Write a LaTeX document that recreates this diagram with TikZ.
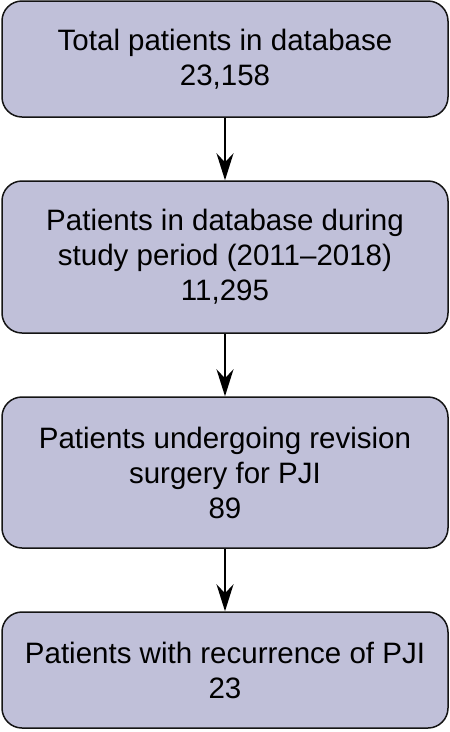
\documentclass[tikz,border=0pt]{standalone}
\usepackage{fontspec}
\setmainfont{Liberation Sans}
\usetikzlibrary{arrows.meta}
\definecolor{flowfill}{RGB}{192, 192, 217}
\definecolor{flowline}{RGB}{20, 20, 20}

\begin{document}
\begin{tikzpicture}[x=1pt, y=-1pt, >={Stealth[length=27pt, width=17pt, inset=9pt]}]

\useasboundingbox (0, 0) rectangle (450, 732);

% ============================================================
% CAJAS — flowfill: pasos del flujo de pacientes
% ============================================================

\tikzset{
    flowbox/.style={draw=flowline, line width=1.5pt, fill=flowfill,
        rounded corners=20pt, minimum width=446pt, align=center,
        inner sep=0pt, font=\fontsize{29.5}{35}\selectfont}
}

% Caja 1 (total)
\node[flowbox, minimum height=116pt] (box-total) at (225, 59)
    {Total patients in database\\23,158};

% Caja 2 (periodo de estudio)
\node[flowbox, minimum height=152pt] (box-period) at (225, 257)
    {Patients in database during\\study period (2011–2018)\\11,295};

% Caja 3 (revisión)
\node[flowbox, minimum height=151pt] (box-revision) at (225, 472.5)
    {Patients undergoing revision\\surgery for PJI\\89};

% Caja 4 (recurrencia)
\node[flowbox, minimum height=116pt] (box-recur) at (225, 670)
    {Patients with recurrence of PJI\\23};

% ============================================================
% FLECHAS — negro: transición entre pasos
% ============================================================

\draw[->, line width=2pt] (box-total.south) -- (box-period.north);
\draw[->, line width=2pt] (box-period.south) -- (box-revision.north);
\draw[->, line width=2pt] (box-revision.south) -- (box-recur.north);

\end{tikzpicture}
\end{document}
